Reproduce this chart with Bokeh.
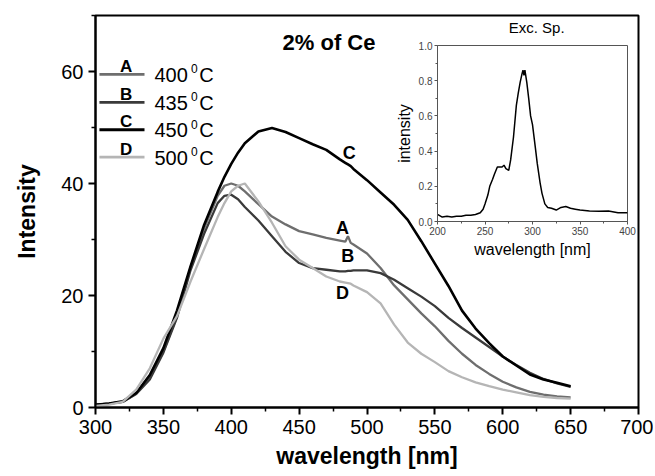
from bokeh.plotting import figure
from bokeh.models import FixedTicker, Label, PrintfTickFormatter
from bokeh.layouts import column
from bokeh.embed import file_html
from bokeh.resources import INLINE

# ---------------- data ----------------
wavelength = [300, 310, 320, 330, 340, 350, 360, 370, 380, 390, 395, 400, 405, 410, 420, 430,
              440, 450, 460, 470, 480, 484, 486, 488, 490, 500, 510, 520, 530, 540, 550, 560,
              570, 580, 590, 600, 610, 620, 630, 640, 650]
series_A = [0.5, 0.7, 1.0, 2.5, 5.3, 10.0, 16.3, 25.0, 32.0, 37.8, 39.6, 40.0, 39.6, 38.6, 36.3, 34.1,
            32.7, 31.5, 30.9, 30.3, 29.8, 29.6, 30.6, 29.4, 29.1, 27.5, 24.9, 21.8, 19.3, 16.8, 14.5, 11.9,
            9.6, 7.6, 6.0, 4.6, 3.6, 2.8, 2.3, 2.0, 1.8]
series_B = [0.5, 0.7, 1.0, 2.4, 5.0, 9.8, 16.0, 24.5, 31.0, 36.5, 37.8, 38.0, 37.2, 35.8, 33.4, 30.6,
            27.8, 25.8, 24.9, 24.6, 24.3, 24.3, 24.4, 24.4, 24.5, 24.5, 24.0, 22.8, 21.3, 19.8, 18.1, 16.0,
            14.2, 12.5, 10.8, 9.1, 7.6, 6.2, 5.1, 4.3, 3.7]
series_C = [0.5, 0.7, 1.1, 2.6, 5.8, 10.6, 17.3, 25.2, 32.6, 38.5, 41.2, 43.5, 45.5, 47.2, 49.3, 49.9,
            49.2, 48.1, 47.0, 46.0, 44.3, 43.7, 43.4, 43.1, 42.6, 40.6, 38.4, 36.2, 33.5, 29.7, 25.7, 21.7,
            17.3, 14.1, 11.5, 9.1, 7.5, 5.9, 5.0, 4.4, 3.8]
series_D = [0.3, 0.5, 1.0, 3.2, 7.0, 12.3, 16.3, 22.5, 28.3, 34.0, 36.5, 38.6, 39.6, 40.0, 36.8, 33.0,
            28.8, 26.4, 24.9, 23.4, 22.5, 22.3, 22.2, 22.1, 21.8, 20.6, 18.6, 14.8, 11.6, 9.6, 8.1, 6.5,
            5.4, 4.5, 3.8, 3.2, 2.7, 2.2, 1.9, 1.7, 1.6]
series_letters = ["A", "B", "C", "D"]
series_temps = ["400", "435", "450", "500"]
label_wl = [482, 485.8, 487, 482]
label_int = [32.0, 27.0, 45.4, 20.5]

x_ticks = [300, 350, 400, 450, 500, 550, 600, 650, 700]
x_minor = [325, 375, 425, 475, 525, 575, 625, 675]
y_ticks = [0, 20, 40, 60]
y_minor = [10, 30, 50, 70]

exc_wl = [200, 205, 210, 215, 220, 225, 230, 235, 240, 245, 248, 250, 253, 255, 258, 260, 263, 265,
          268, 270, 272, 275, 277, 280, 283, 285, 287, 289, 290, 291, 292, 294, 296, 298, 300, 303,
          305, 308, 310, 313, 316, 320, 325, 330, 335, 340, 345, 350, 360, 370, 380, 390, 400]
exc_int = [0.04, 0.025, 0.03, 0.025, 0.03, 0.03, 0.035, 0.035, 0.04, 0.05, 0.07, 0.10, 0.15, 0.20,
           0.24, 0.27, 0.31, 0.31, 0.31, 0.32, 0.30, 0.29, 0.35, 0.48, 0.66, 0.73, 0.79, 0.84, 0.86,
           0.83, 0.86, 0.79, 0.70, 0.60, 0.55, 0.42, 0.33, 0.22, 0.16, 0.10, 0.08, 0.075, 0.065,
           0.08, 0.085, 0.075, 0.07, 0.065, 0.06, 0.058, 0.06, 0.05, 0.05]
exc_x_ticks = [200, 250, 300, 350, 400]
exc_x_minor = [225, 275, 325, 375]
exc_y_ticks = [0.0, 0.2, 0.4, 0.6, 0.8, 1.0]
exc_y_minor = [0.1, 0.3, 0.5, 0.7, 0.9]

# ---------------- styles ----------------
FONT = "Liberation Sans"
colors = ["#6e6e6e", "#3a3a3a", "#000000", "#b5b5b5"]
widths = [2.3, 2.3, 2.6, 2.3]
BORDER_L, BORDER_R = 95, 15

p = figure(frame_width=543, frame_height=392, x_range=(300, 700), y_range=(0, 70),
           output_backend="svg", toolbar_location=None, title=None,
           min_border_left=BORDER_L, min_border_right=BORDER_R, min_border_top=15, min_border_bottom=61)
p.xgrid.visible = False
p.ygrid.visible = False
p.outline_line_color = "black"
p.outline_line_width = 2
p.background_fill_color = "white"
p.border_fill_color = "white"

p.xaxis.ticker = FixedTicker(ticks=x_ticks, minor_ticks=x_minor)
p.yaxis.ticker = FixedTicker(ticks=y_ticks, minor_ticks=y_minor)
for ax in (p.xaxis, p.yaxis):
    ax.axis_line_width = 2
    ax.major_tick_line_width = 2
    ax.minor_tick_line_width = 1.5
    ax.major_tick_in = 0
    ax.major_tick_out = 7
    ax.minor_tick_in = 0
    ax.minor_tick_out = 4
    ax.major_label_text_font = FONT
    ax.major_label_text_font_size = "20px"
    ax.major_label_text_color = "black"
    ax.axis_label_text_font = FONT
    ax.axis_label_text_font_style = "bold"
    ax.axis_label_text_font_size = "23px"
    ax.axis_label_text_color = "black"
p.xaxis.axis_label = "wavelength [nm]"
p.yaxis.axis_label = "Intensity"
p.xaxis.major_label_standoff = 5
p.yaxis.major_label_standoff = 5
p.xaxis.axis_label_standoff = 6
p.yaxis.axis_label_standoff = 18

all_series = [series_A, series_B, series_C, series_D]
for s, c, w in zip(all_series, colors, widths):
    p.line(wavelength, s, line_color=c, line_width=w)

# curve letters
for letter, lx, ly in zip(series_letters, label_wl, label_int):
    p.add_layout(Label(x=lx, y=ly, text=letter, text_font=FONT, text_font_style="bold",
                       text_font_size="18px", text_align="center", text_baseline="middle",
                       text_color="black"))

# legend block
leg_y = [59.5, 54.5, 49.6, 44.7]
for letter, temp, c, w, ly in zip(series_letters, series_temps, colors, widths, leg_y):
    p.line([302.9, 336.1], [ly, ly], line_color=c, line_width=w + 0.4)
    p.add_layout(Label(x=322.6, y=ly + 1.45, text=letter, text_font=FONT, text_font_style="bold",
                       text_font_size="17px", text_align="center", text_baseline="middle",
                       text_color="black"))
    p.add_layout(Label(x=343.4, y=ly - 0.1, text=temp, text_font=FONT, text_font_size="20px",
                       text_align="left", text_baseline="middle", text_color="black"))
    p.add_layout(Label(x=370.3, y=ly + 1.0, text="0", text_font=FONT, text_font_size="12px",
                       text_align="left", text_baseline="middle", text_color="black"))
    p.add_layout(Label(x=376.4, y=ly - 0.1, text="C", text_font=FONT, text_font_size="20px",
                       text_align="left", text_baseline="middle", text_color="black"))

p.add_layout(Label(x=472, y=65.2, text="2% of Ce", text_font=FONT, text_font_style="bold",
                   text_font_size="22px", text_align="center", text_baseline="middle",
                   text_color="black"))
# inset heading
p.add_layout(Label(x=625, y=67.8, text="Exc. Sp.", text_font=FONT,
                   text_font_size="15px", text_align="center", text_baseline="middle",
                   text_color="black"))

# ---------------- inset ----------------
ins = figure(frame_width=190, frame_height=176, x_range=(200, 400), y_range=(0, 1.0),
             output_backend="svg", toolbar_location=None, title=None,
             min_border_left=BORDER_L, min_border_right=BORDER_R, min_border_top=28, min_border_bottom=41,
             styles={"position": "absolute", "left": "342px", "top": "17px", "z-index": "5"})
ins.xgrid.visible = False
ins.ygrid.visible = False
ins.border_fill_color = None
ins.background_fill_color = "white"
ins.outline_line_color = "#555555"
ins.outline_line_width = 1
ins.xaxis.ticker = FixedTicker(ticks=exc_x_ticks, minor_ticks=exc_x_minor)
ins.yaxis.ticker = FixedTicker(ticks=exc_y_ticks, minor_ticks=exc_y_minor)
ins.yaxis.formatter = PrintfTickFormatter(format="%.1f")
for ax in (ins.xaxis, ins.yaxis):
    ax.axis_line_color = "#555555"
    ax.major_tick_line_color = "#555555"
    ax.minor_tick_line_color = "#555555"
    ax.axis_line_width = 1
    ax.major_tick_in = 0
    ax.major_tick_out = 3
    ax.minor_tick_in = 0
    ax.minor_tick_out = 2
    ax.major_label_text_font = FONT
    ax.major_label_text_font_size = "10px"
    ax.major_label_text_color = "#444444"
    ax.major_label_standoff = 2
    ax.axis_label_text_font = FONT
    ax.axis_label_text_font_style = "normal"
    ax.axis_label_text_font_size = "16px"
    ax.axis_label_text_color = "black"
    ax.axis_label_standoff = 3
ins.xaxis.axis_label = "wavelength [nm]"
ins.yaxis.axis_label = "intensity"
ins.line(exc_wl, exc_int, line_color="black", line_width=1.5)

layout = column(p, ins, styles={"position": "relative"})

open("out.html", "w").write(file_html(layout, INLINE))
